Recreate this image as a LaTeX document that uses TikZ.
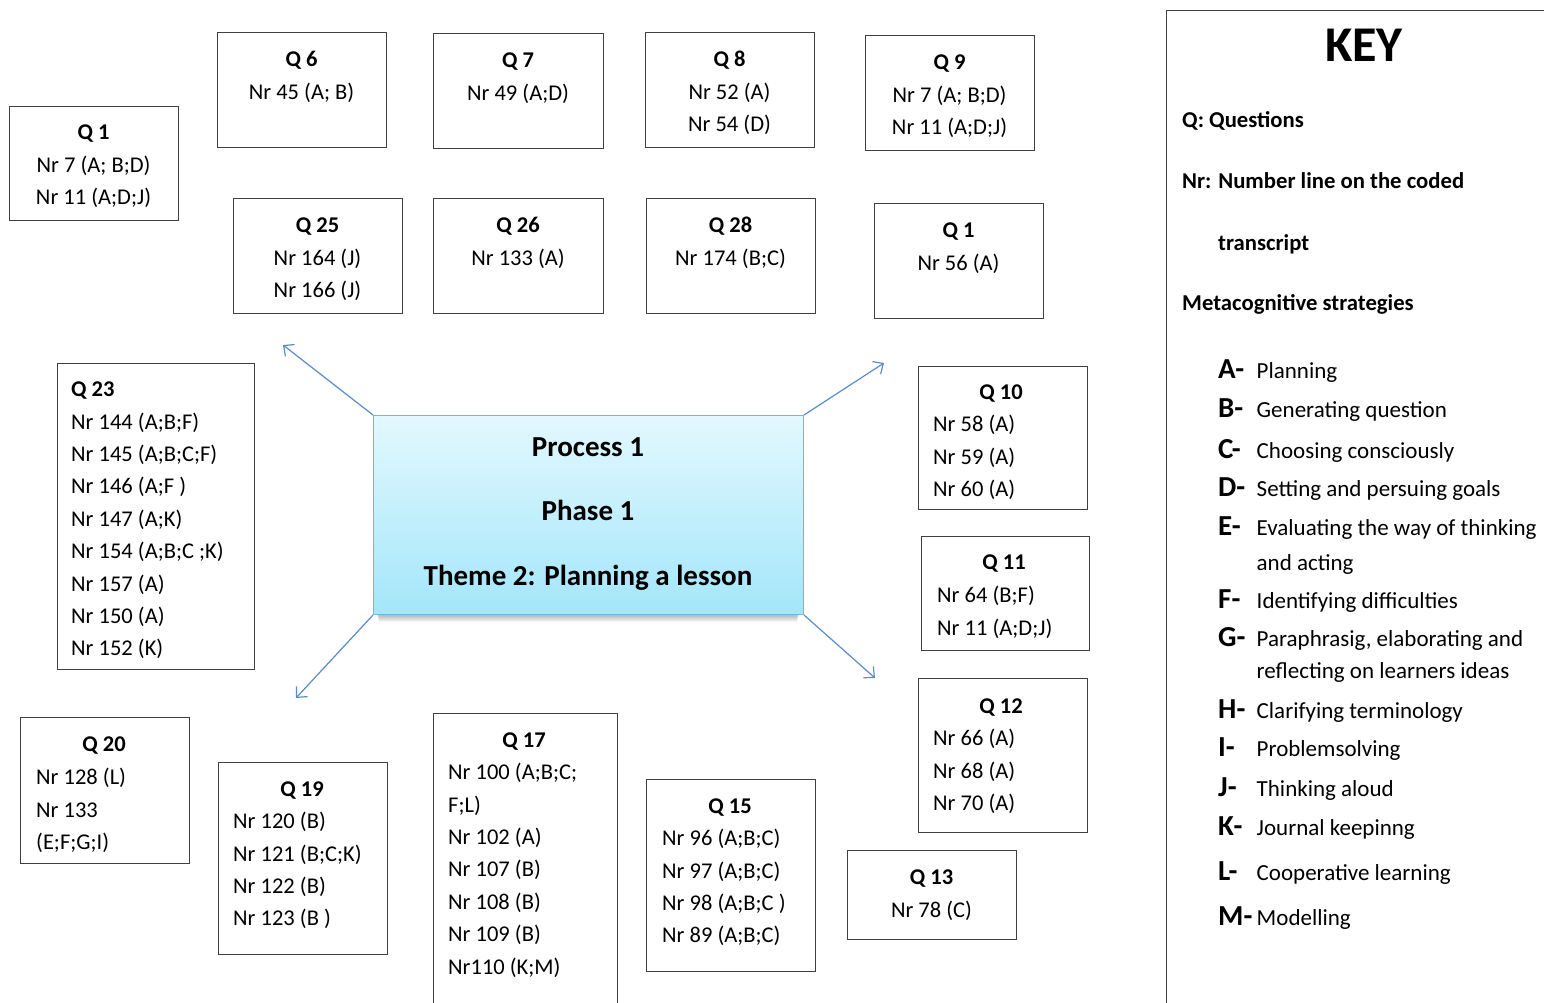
\documentclass[tikz,border=0pt]{standalone}
\usepackage{fontspec}
\setmainfont{Carlito}
\usetikzlibrary{arrows.meta}
\definecolor{boxline}{HTML}{404040}
\definecolor{arrowblue}{HTML}{5B8BCB}
\definecolor{hubtop}{HTML}{E3F8FE}
\definecolor{hubbottom}{HTML}{A3E6FA}
\definecolor{hubline}{HTML}{6FB8E0}
\begin{document}
\begin{tikzpicture}[x=1pt,y=-1pt,
  qbox/.style={draw=boxline, line width=1.3pt, anchor=north west, inner sep=0pt},
  sz/.style 2 args={minimum width=#1, minimum height=#2},
  qtext/.style={inner sep=0pt, font=\fontsize{22.5}{32.4}\selectfont},
  ctext/.style={qtext, anchor=north, align=center},
  ltext/.style={qtext, anchor=north west, align=left},
  arr/.style={draw=arrowblue, line width=1.2pt, -{Straight Barb[length=8pt,width=15pt]}},
  keyhead/.style={inner sep=0pt, anchor=base west, font=\fontsize{22.7}{27}\selectfont\bfseries},
  keyletter/.style={inner sep=0pt, anchor=base west, font=\fontsize{29}{34}\selectfont\bfseries},
  keyitem/.style={inner sep=0pt, anchor=base west, align=left, font=\fontsize{23}{35}\selectfont}
]
\clip (0,0) rectangle (1544,1002);

% ---- question boxes, top rows ----
\node[qbox, sz={169}{114}] (q1a) at (9,106) {};
\node[ctext] (q1at) at (93.5,116.8) {\strut\textbf{Q 1}\\Nr 7 (A; B;D)\\Nr 11 (A;D;J)};
\node[qbox, sz={169}{115}] (q6) at (217,32) {};
\node[ctext] (q6t) at (301.5,43.8) {\strut\textbf{Q 6}\\Nr 45 (A; B)};
\node[qbox, sz={170}{115}] (q7) at (433,33) {};
\node[ctext] (q7t) at (518,44.8) {\strut\textbf{Q 7}\\Nr 49 (A;D)};
\node[qbox, sz={169}{115}] (q8) at (645,32) {};
\node[ctext] (q8t) at (729.5,43.8) {\strut\textbf{Q 8}\\Nr 52 (A)\\Nr 54 (D)};
\node[qbox, sz={169}{115}] (q9) at (865,35) {};
\node[ctext] (q9t) at (949.5,46.8) {\strut\textbf{Q 9}\\Nr 7 (A; B;D)\\Nr 11 (A;D;J)};
\node[qbox, sz={169}{115}] (q25) at (233,198) {};
\node[ctext] (q25t) at (317.5,209.8) {\strut\textbf{Q 25}\\Nr 164 (J)\\Nr 166 (J)};
\node[qbox, sz={170}{115}] (q26) at (433,198) {};
\node[ctext] (q26t) at (518,209.8) {\strut\textbf{Q 26}\\Nr 133 (A)};
\node[qbox, sz={169}{115}] (q28) at (646,198) {};
\node[ctext] (q28t) at (730.5,209.8) {\strut\textbf{Q 28}\\Nr 174 (B;C)};
\node[qbox, sz={169}{115}] (q1b) at (874,203) {};
\node[ctext] (q1bt) at (958.5,214.8) {\strut\textbf{Q 1}\\Nr 56 (A)};

% ---- left column ----
\node[qbox, sz={197}{306}] (q23) at (57,363) {};
\node[ltext] (q23t) at (71,373.8) {\strut\textbf{Q 23}\\Nr 144 (A;B;F)\\Nr 145 (A;B;C;F)\\Nr 146 (A;F )\\Nr 147 (A;K)\\Nr 154 (A;B;C ;K)\\Nr 157 (A)\\Nr 150 (A)\\Nr 152 (K)};
\node[qbox, sz={169}{146}] (q20) at (20,717) {};
\node[ctext] (q20h) at (104,728.8) {\strut\textbf{Q 20}};
\node[ltext] (q20t) at (36,761.8) {\strut Nr 128 (L)\\Nr 133\\(E;F;G;I)};
\node[qbox, sz={169}{192}] (q19) at (218,762) {};
\node[ctext] (q19h) at (302,773.8) {\strut\textbf{Q 19}};
\node[ltext] (q19t) at (233,805.8) {\strut Nr 120 (B)\\Nr 121 (B;C;K)\\Nr 122 (B)\\Nr 123 (B )};
\node[qbox, sz={184}{320}] (q17) at (433,713) {};
\node[ctext] (q17h) at (524,724.8) {\strut\textbf{Q 17}};
\node[ltext] (q17t) at (448,756.8) {\strut Nr 100 (A;B;C;\\F;L)\\Nr 102 (A)\\Nr 107 (B)\\Nr 108 (B)\\Nr 109 (B)\\Nr110 (K;M)};

% ---- right column ----
\node[qbox, sz={169}{143}] (q10) at (918,366) {};
\node[ctext] (q10h) at (1001,376.8) {\strut\textbf{Q 10}};
\node[ltext] (q10t) at (933,408.8) {\strut Nr 58 (A)\\Nr 59 (A)\\Nr 60 (A)};
\node[qbox, sz={168}{114}] (q11) at (921,536) {};
\node[ctext] (q11h) at (1004,546.8) {\strut\textbf{Q 11}};
\node[ltext] (q11t) at (937,579.8) {\strut Nr 64 (B;F)\\Nr 11 (A;D;J)};
\node[qbox, sz={169}{154}] (q12) at (918,678) {};
\node[ctext] (q12h) at (1001,690.8) {\strut\textbf{Q 12}};
\node[ltext] (q12t) at (933,722.8) {\strut Nr 66 (A)\\Nr 68 (A)\\Nr 70 (A)};
\node[qbox, sz={169}{89}] (q13) at (847,850) {};
\node[ctext] (q13t) at (931.5,861.8) {\strut\textbf{Q 13}\\Nr 78 (C)};
\node[qbox, sz={169}{192}] (q15) at (646,779) {};
\node[ctext] (q15h) at (730,790.8) {\strut\textbf{Q 15}};
\node[ltext] (q15t) at (662,822.8) {\strut Nr 96 (A;B;C)\\Nr 97 (A;B;C)\\Nr 98 (A;B;C )\\Nr 89 (A;B;C)};

% ---- soft shadow under the theme box ----
\foreach \d in {1,...,8}{
  \fill[black, opacity=0.045] (376+0.4*\d,430) rectangle (800-0.4*\d,614+\d);
}
% ---- central theme box ----
\node[draw=hubline, line width=1pt, anchor=north west, inner sep=0pt, sz={430}{199},
      top color=hubtop, bottom color=hubbottom] (hub) at (373,415) {};
\node[inner sep=0pt, anchor=north, align=center, font=\fontsize{29}{64.5}\selectfont\bfseries] (hubt) at (588,411.1)
  {\strut Process 1\\Phase 1\\Theme 2: Planning a lesson};

% ---- arrows from the theme box ----
\coordinate (tnw) at (283,345);
\coordinate (tne) at (884,363);
\coordinate (tsw) at (296,698);
\coordinate (tse) at (875,678);
\draw[arr] (hub.north west) -- (tnw);
\draw[arr] (hub.north east) -- (tne);
\draw[arr] (hub.south west) -- (tsw);
\draw[arr] (hub.south east) -- (tse);

% ---- key panel ----
\node[draw=boxline, line width=1.3pt, anchor=north west, inner sep=0pt, sz={420}{1020}] (key) at (1166,10) {};
\node[inner sep=0pt, anchor=base, font=\fontsize{50}{60}\selectfont\bfseries] (keyt) at (1364,61) {KEY};
\node[keyhead] (kq) at (1182,127) {Q: Questions};
\node[keyhead] (knr) at (1182,188) {Nr: Number line on the coded};
\node[keyhead] (ktr) at (1218,250) {transcript};
\node[keyhead] (kmc) at (1182,310) {Metacognitive strategies};

\foreach \nm/\lt/\yy/\txt in {
  ka/A/378.3/Planning,
  kb/B/417.7/Generating question,
  kc/C/458/Choosing consciously,
  kd/D/496.7/Setting and persuing goals,
  ke/E/535/Evaluating the way of thinking,
  kf/F/608.3/Identifying difficulties,
  kg/G/646.7/{Paraphrasig, elaborating and},
  kh/H/718.3/Clarifying terminology,
  ki/I/756.7/Problemsolving,
  kj/J/796.7/Thinking aloud,
  kk/K/835/Journal keepinng,
  kl/L/880/Cooperative learning,
  km/M/925/Modelling}{
  \node[keyletter] (\nm l) at (1218,\yy) {\lt-};
  \node[keyitem] (\nm d) at (1256.5,\yy) {\txt};
}
\node[keyitem] (ke2) at (1256.5,570) {and acting};
\node[keyitem] (kg2) at (1256.5,678.3) {reflecting on learners ideas};
\end{tikzpicture}
\end{document}
